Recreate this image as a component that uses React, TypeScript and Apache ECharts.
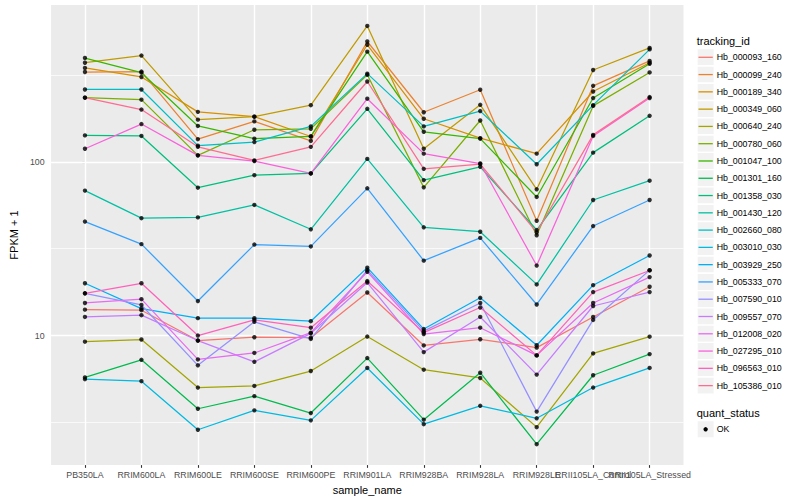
import React, { useEffect, useRef } from "react";
import * as echarts from "echarts";

// ---------- data ----------
const sampleNames = [
  "PB350LA", "RRIM600LA", "RRIM600LE", "RRIM600SE", "RRIM600PE", "RRIM901LA",
  "RRIM928BA", "RRIM928LA", "RRIM928LE", "RRII105LA_Control", "RRII105LA_Stressed",
];

const trackingIds = [
  "Hb_000093_160", "Hb_000099_240", "Hb_000189_340", "Hb_000349_060", "Hb_000640_240",
  "Hb_000780_060", "Hb_001047_100", "Hb_001301_160", "Hb_001358_030", "Hb_001430_120",
  "Hb_002660_080", "Hb_003010_030", "Hb_003929_250", "Hb_005333_070", "Hb_007590_010",
  "Hb_009557_070", "Hb_012008_020", "Hb_027295_010", "Hb_096563_010", "Hb_105386_010",
];

const seriesColors = [
  "#F8766D", "#EA8331", "#D89000", "#C09B00", "#A3A500", "#7CAE00", "#39B600", "#00BB4E",
  "#00BF7D", "#00C1A3", "#00BFC4", "#00BAE0", "#00B0F6", "#35A2FF", "#9590FF", "#C77CFF",
  "#E76BF3", "#FA62DB", "#FF62BC", "#FF6C91",
];

// FPKM + 1 per sample (order of sampleNames)
const hb000093_160 = [14.1, 14.0, 9.36, 9.78, 9.72, 17.7, 8.77, 9.52, 8.52, 12.8, 19.1];
const hb000099_240 = [329, 331, 135, 171, 132, 493, 193, 260, 45.8, 274, 381];
const hb000189_340 = [347, 308, 194, 182, 140, 472, 177, 137, 111.5, 254, 372];
const hb000349_060 = [372, 409, 175, 182, 212, 606, 119, 213, 69.5, 338, 453];
const hb000640_240 = [9.22, 9.49, 5.02, 5.13, 6.25, 9.87, 6.36, 5.7, 2.97, 7.89, 9.85];
const hb000780_060 = [234, 228, 109, 153, 155, 317, 71.3, 173, 37.8, 210, 327];
const hb001047_100 = [396, 326, 161, 136, 140, 431, 149, 136, 62.8, 233, 367];
const hb001301_160 = [5.74, 7.25, 3.79, 4.48, 3.58, 7.42, 3.28, 6.11, 2.37, 5.91, 7.82];
const hb001358_030 = [142, 141, 71.0, 83.8, 85.8, 202, 78.5, 93.6, 40.5, 113, 184];
const hb001430_120 = [68.3, 47.4, 47.9, 56.5, 40.9, 104, 42.0, 39.6, 19.7, 60.3, 77.9];
const hb002660_080 = [261, 261, 124, 130, 160, 322, 160, 196, 96.9, 212, 444];
const hb003010_030 = [5.61, 5.46, 2.87, 3.71, 3.25, 6.51, 3.09, 3.94, 3.34, 5.02, 6.51];
const hb003929_250 = [20.0, 14.3, 12.6, 12.6, 12.1, 24.6, 10.9, 16.5, 8.8, 19.5, 28.9];
const hb005333_070 = [45.3, 33.6, 15.8, 33.4, 32.6, 70.4, 27.0, 36.5, 15.1, 42.7, 60.3];
const hb007590_010 = [17.5, 15.0, 6.74, 12.0, 9.56, 23.8, 10.6, 15.4, 3.65, 12.3, 23.8];
const hb009557_070 = [12.8, 13.1, 9.36, 7.06, 10.3, 20.2, 8.03, 12.8, 5.96, 14.8, 17.8];
const hb012008_020 = [15.4, 16.2, 7.29, 7.94, 10.4, 23.3, 10.2, 11.1, 7.69, 15.4, 21.7];
const hb027295_010 = [119, 165, 109, 101, 85.8, 231, 111.5, 97.8, 25.3, 141, 233];
const hb096563_010 = [17.5, 20.0, 10.0, 12.3, 11.1, 20.6, 10.4, 14.5, 7.69, 17.8, 23.7];
const hb105386_010 = [234, 200, 122, 102, 122, 290, 91.2, 97.1, 39.3, 143, 236];

const seriesValues = [
  hb000093_160, hb000099_240, hb000189_340, hb000349_060, hb000640_240,
  hb000780_060, hb001047_100, hb001301_160, hb001358_030, hb001430_120,
  hb002660_080, hb003010_030, hb003929_250, hb005333_070, hb007590_010,
  hb009557_070, hb012008_020, hb027295_010, hb096563_010, hb105386_010,
];

const yMajorTicks = [10, 100];
const yMinorGrid = [3.1623, 31.623, 316.23];
const quantStatus = ["OK"];

// axis range (log scale with 5% expansion)
const Y_MIN = 1.796;
const Y_MAX = 799.7;

const FONT = "'Liberation Sans', Arial, Helvetica, sans-serif";

export default function App() {
  const ref = useRef<HTMLDivElement>(null);

  useEffect(() => {
    if (!ref.current) return;
    const chart = echarts.init(ref.current, null, { renderer: "svg" });
    const idx = sampleNames.map((_, i) => i);
    // labels split over two axes so the (overlapping, as in the reference) last labels both show
    const idxEven = idx.filter((i) => i % 2 === 0);
    const idxOdd = idx.filter((i) => i % 2 === 1);

    const gridSeries = {
      type: "line",
      data: [[0, 10]],
      symbol: "none",
      showSymbol: false,
      lineStyle: { opacity: 0 },
      silent: true,
      z: 1,
      markLine: {
        silent: true,
        z: 1,
        symbol: ["none", "none"],
        label: { show: false },
        emphasis: { disabled: true },
        animation: false,
        data: [
          ...yMinorGrid.map((v) => ({ yAxis: v, lineStyle: { color: "#FFFFFF", width: 0.71, type: "solid" } })),
          ...yMajorTicks.map((v) => ({ yAxis: v, lineStyle: { color: "#FFFFFF", width: 1.42, type: "solid" } })),
          ...idx.map((i) => ({ xAxis: i, lineStyle: { color: "#FFFFFF", width: 1.42, type: "solid" } })),
        ],
      },
    };

    const lineSeries = seriesValues.map((vals, s) => ({
      type: "line",
      name: trackingIds[s],
      data: vals.map((v, i) => [i, v]),
      symbol: "none",
      showSymbol: false,
      silent: true,
      z: 2,
      lineStyle: { color: seriesColors[s], width: 1.25 },
      itemStyle: { color: seriesColors[s] },
    }));

    const pointData: number[][] = [];
    seriesValues.forEach((vals) => vals.forEach((v, i) => pointData.push([i, v])));
    const pointSeries = {
      type: "scatter",
      name: quantStatus[0],
      data: pointData,
      symbol: "circle",
      symbolSize: 4.4,
      silent: true,
      z: 3,
      itemStyle: { color: "#000000" },
    };

    // legend (drawn to mimic ggplot keys)
    const keyX = 697;
    const keySize = 17.28;
    const firstY = 57.3;
    const legendEls: any[] = [
      {
        type: "text",
        x: 696.7,
        y: 40.7,
        style: { text: "tracking_id", fontSize: 11, fill: "#000000", fontFamily: FONT, verticalAlign: "middle", align: "left" },
      },
    ];
    trackingIds.forEach((id, i) => {
      const cy = firstY + i * keySize;
      legendEls.push({
        type: "rect",
        shape: { x: keyX, y: cy - keySize / 2, width: keySize, height: keySize },
        style: { fill: "#F2F2F2", stroke: "#FFFFFF", lineWidth: 1.4 },
      });
      legendEls.push({
        type: "line",
        shape: { x1: keyX + 1.5, y1: cy, x2: keyX + keySize - 1.5, y2: cy },
        style: { stroke: seriesColors[i], lineWidth: 1.3 },
      });
      legendEls.push({
        type: "text",
        x: 716.7,
        y: cy,
        style: { text: id, fontSize: 8.8, fill: "#000000", fontFamily: FONT, verticalAlign: "middle", align: "left" },
      });
    });
    const qsTitleY = 412.7;
    const okY = 429.3;
    legendEls.push({
      type: "text",
      x: 696.7,
      y: qsTitleY,
      style: { text: "quant_status", fontSize: 11, fill: "#000000", fontFamily: FONT, verticalAlign: "middle", align: "left" },
    });
    legendEls.push({
      type: "rect",
      shape: { x: keyX, y: okY - keySize / 2, width: keySize, height: keySize },
      style: { fill: "#F2F2F2", stroke: "#FFFFFF", lineWidth: 1.4 },
    });
    legendEls.push({
      type: "circle",
      shape: { cx: keyX + keySize / 2, cy: okY, r: 2.2 },
      style: { fill: "#000000" },
    });
    legendEls.push({
      type: "text",
      x: 716.7,
      y: okY,
      style: { text: quantStatus[0], fontSize: 8.8, fill: "#000000", fontFamily: FONT, verticalAlign: "middle", align: "left" },
    });

    const xLabelBase = {
      show: true,
      formatter: (v: number) => sampleNames[Math.round(v)] ?? "",
      fontSize: 8.8,
      color: "#4D4D4D",
      margin: 5,
      fontFamily: FONT,
      showMinLabel: true,
      showMaxLabel: true,
      hideOverlap: false,
    };

    const option: any = {
      animation: false,
      backgroundColor: "#FFFFFF",
      textStyle: { fontFamily: FONT },
      tooltip: { show: false },
      grid: {
        left: 40,
        right: 116.5,
        top: 5,
        bottom: 32,
        show: true,
        backgroundColor: "#EBEBEB",
        borderWidth: 0,
        containLabel: false,
      },
      xAxis: [
        {
          type: "value",
          min: -0.6,
          max: 10.6,
          position: "bottom",
          name: "sample_name",
          nameLocation: "middle",
          nameGap: 15,
          nameTextStyle: { fontSize: 11, color: "#000000", fontFamily: FONT },
          axisLine: { show: false },
          axisTick: { show: true, customValues: idx, length: 2.75, lineStyle: { color: "#333333", width: 1.1 } },
          axisLabel: { ...xLabelBase, customValues: idxEven },
          splitLine: { show: false },
        },
        {
          type: "value",
          min: -0.6,
          max: 10.6,
          position: "bottom",
          offset: 0,
          axisLine: { show: false },
          axisTick: { show: false },
          axisLabel: { ...xLabelBase, customValues: idxOdd },
          splitLine: { show: false },
        },
      ],
      yAxis: {
        type: "log",
        logBase: 10,
        min: Y_MIN,
        max: Y_MAX,
        name: "FPKM + 1",
        nameLocation: "middle",
        nameGap: 22,
        nameRotate: 90,
        nameTextStyle: { fontSize: 11, color: "#000000", fontFamily: FONT },
        axisLine: { show: false },
        axisTick: { show: true, customValues: yMajorTicks, length: 2.75, lineStyle: { color: "#333333", width: 1.1 } },
        axisLabel: {
          show: true,
          customValues: yMajorTicks,
          formatter: (v: number) => String(Math.round(v)),
          fontSize: 8.8,
          color: "#4D4D4D",
          margin: 6.5,
          fontFamily: FONT,
          showMinLabel: true,
          showMaxLabel: true,
        },
        splitLine: { show: false },
        minorSplitLine: { show: false },
      },
      graphic: { elements: legendEls },
      series: [gridSeries, ...lineSeries, pointSeries],
    };

    chart.setOption(option);
    return () => chart.dispose();
  }, []);

  return (
    <div
      ref={ref}
      style={{ position: "absolute", left: 0, top: 0, width: 800, height: 500 }}
    />
  );
}
